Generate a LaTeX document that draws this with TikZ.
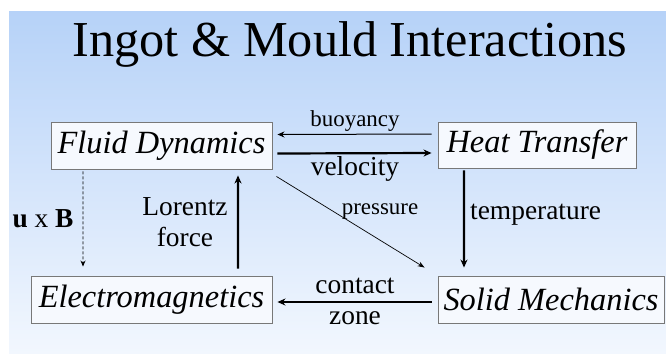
\documentclass[tikz,border=0pt]{standalone}
\usepackage{fontspec}
\setmainfont{Liberation Serif}
\usetikzlibrary{arrows.meta}
\definecolor{bgtop}{RGB}{182,210,248}
\definecolor{bgbot}{RGB}{242,247,254}
\definecolor{boxline}{RGB}{120,120,120}
\definecolor{boxfill}{RGB}{246,249,254}
\begin{document}
\begin{tikzpicture}[x=1bp,y=-1bp,
  box/.style={draw=boxline,line width=0.9bp,fill=boxfill,inner sep=0pt,
    font=\itshape\fontsize{32.5}{36}\selectfont},
  lbl/.style={font=\fontsize{27.5}{31}\selectfont,inner sep=0pt,align=center},
  small/.style={font=\fontsize{23}{27}\selectfont,inner sep=0pt},
  thick arrow/.style={line width=2.2bp,-{Stealth[length=8bp,width=7bp]}},
  thin arrow/.style={line width=1bp,-{Stealth[length=7bp,width=6bp]}},
  dash arrow/.style={line width=0.8bp,dashed,dash pattern=on 3bp off 2bp,-{Stealth[length=6bp,width=5bp]}}]
\useasboundingbox (0,0) rectangle (666,353);
\fill[white] (0,0) rectangle (666,353);
\shade[top color=bgtop,bottom color=bgbot] (9,11) rectangle (666,353);

\node[anchor=base,font=\fontsize{50.5}{56}\selectfont,inner sep=0pt] (title) at (350,56) {Ingot \& Mould Interactions};

\node[box,minimum width=221bp,minimum height=47bp] (FD) at (161.5,145.5) {Fluid Dynamics};
\node[box,minimum width=198bp,minimum height=46bp] (HT) at (537,145) {Heat Transfer};
\node[box,minimum width=241bp,minimum height=47bp] (EM) at (151.5,299.5) {Electromagnetics};
\node[box,minimum width=226bp,minimum height=47bp] (SM) at (551,299.5) {Solid Mechanics};

% buoyancy
\draw[thin arrow] ([xshift=-6bp,yshift=11bp]HT.west) -- ([xshift=5bp,yshift=11bp]FD.east);
\node[small] (lbuoy) at (355,121) {buoyancy};
% velocity
\draw[thick arrow] ([xshift=5bp,yshift=-8bp]FD.east) -- ([xshift=-6bp,yshift=-8bp]HT.west);
\node[lbl] (lvel) at (355,169) {velocity};
% pressure
\draw[line width=0.7bp,-{Stealth[length=7bp,width=5bp]}] ([xshift=4bp,yshift=-7bp]FD.south east) -- ([xshift=-13bp,yshift=8bp]SM.north west);
\node[small] (lpress) at (380,212) {pressure};
% temperature
\draw[thick arrow] ([xshift=-73bp,yshift=-2bp]HT.south) -- ([xshift=-87bp,yshift=8bp]SM.north);
\node[lbl,anchor=west] (ltemp) at (470,215) {temperature};
% contact zone
\draw[thick arrow] ([xshift=-6bp,yshift=-2.5bp]SM.west) -- ([xshift=5bp,yshift=-2.5bp]EM.east);
\node[lbl] (lcontact) at (355,286) {contact};
\node[lbl] (lzone) at (355,318) {zone};
% Lorentz force
\draw[thick arrow] ([xshift=86.5bp,yshift=7bp]EM.north) -- ([xshift=76.5bp,yshift=-6bp]FD.south);
\node[lbl] (llor) at (185,222) {Lorentz\\force};
% u x B
\draw[dash arrow] ([xshift=-78.5bp,yshift=-2bp]FD.south) -- ([xshift=-68.5bp,yshift=9bp]EM.north);
\node[lbl] (luxb) at (43,219) {\textbf{u} x \textbf{B}};
\end{tikzpicture}
\end{document}
